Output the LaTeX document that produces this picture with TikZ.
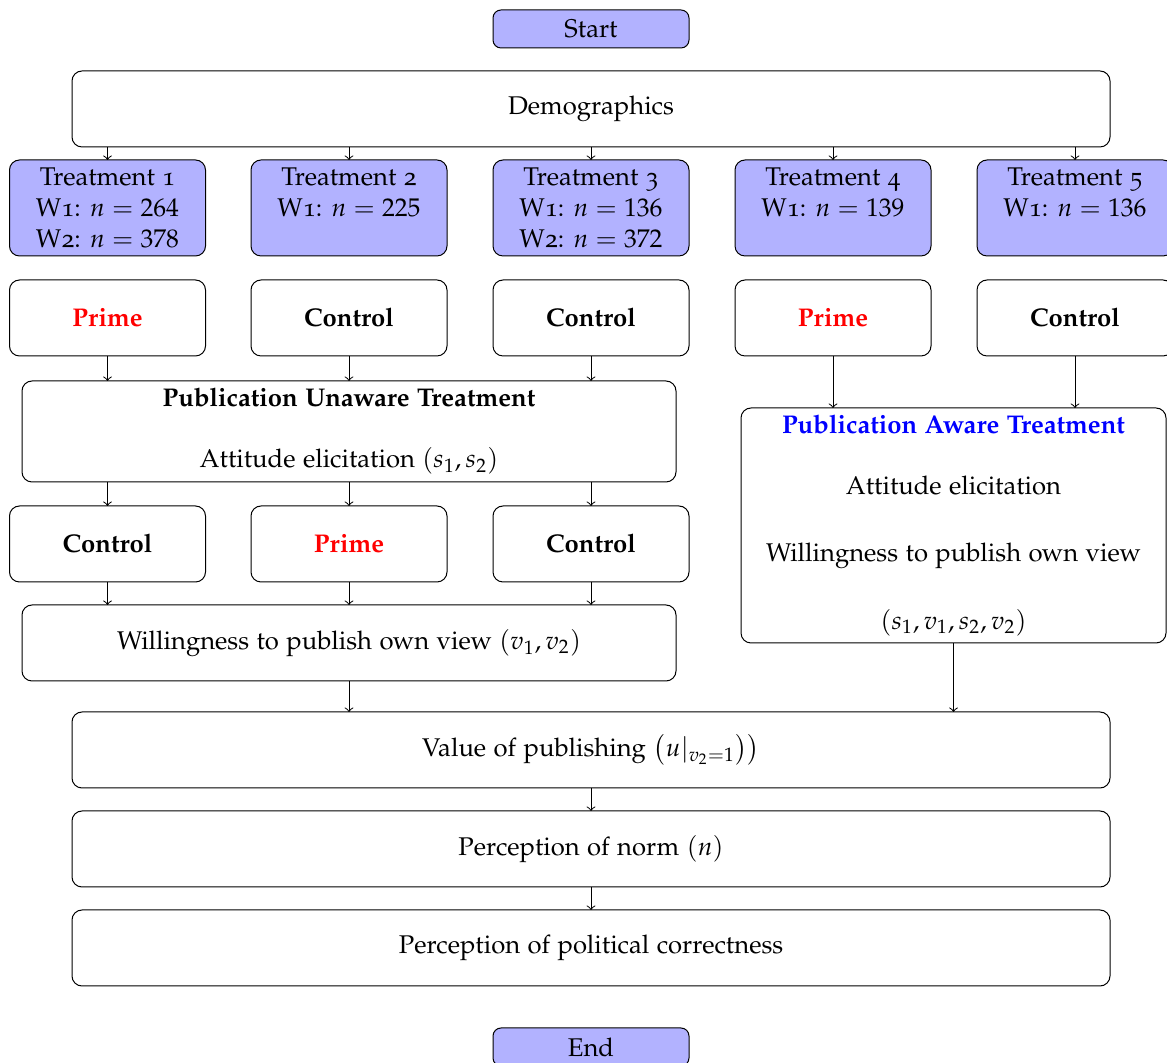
\documentclass[tikz,border=0pt]{standalone}
\usepackage[T1]{fontenc}
\usepackage[osf]{mathpazo}
\AtBeginDocument{\fontsize{10.25pt}{12.3pt}\selectfont}
\newdimen\pxu \pxu=0.4pt
\tikzset{
  base/.style={draw, rounded corners=4pt, inner sep=0pt, outer sep=0pt, align=center},
  smallbox/.style={base, minimum width=196\pxu, minimum height=76\pxu},
  treat/.style={base, fill=blue!30, minimum width=196\pxu, minimum height=96\pxu},
  term/.style={base, fill=blue!30, rounded corners=3.2pt, minimum width=196\pxu, minimum height=38\pxu},
  wide/.style={base, minimum width=1038\pxu, minimum height=76\pxu},
  midbox/.style={base, minimum width=654\pxu},
  prime/.style={smallbox, text=red, font=\bfseries},
  ctrl/.style={smallbox, font=\bfseries},
  arr/.style={->}
}
\begin{document}
\begin{tikzpicture}[x=0.4pt, y=-0.4pt]
\useasboundingbox (0,0) rectangle (1167,1063);
\node[term] (start) at (591,29) {Start};
\node[wide] (demo) at (591,109) {Demographics};

\node[treat] (t1) at (107.5,208) {Treatment 1\\W1: $n=264$\\W2: $n=378$};
\node[treat] (t2) at (349,208) {Treatment 2\\W1: $n=225$\\\phantom{W2: $n=378$}};
\node[treat] (t3) at (591,208) {Treatment 3\\W1: $n=136$\\W2: $n=372$};
\node[treat] (t4) at (833,208) {Treatment 4\\W1: $n=139$\\\phantom{W2: $n=378$}};
\node[treat] (t5) at (1075,208) {Treatment 5\\W1: $n=136$\\\phantom{W2: $n=378$}};

\node[prime] (a1) at (107.5,318) {Prime};
\node[ctrl] (a2) at (349,318) {Control};
\node[ctrl] (a3) at (591,318) {Control};
\node[prime] (a4) at (833,318) {Prime};
\node[ctrl] (a5) at (1075,318) {Control};

\node[midbox, minimum height=101\pxu] (unaware) at (349,431.5)
  {\textbf{Publication Unaware Treatment}\\[12.2pt]Attitude elicitation $(s_1,s_2)$};

\node[base, minimum width=425\pxu, minimum height=235\pxu] (aware) at (953.5,525.5)
  {\textcolor{blue}{\textbf{Publication Aware Treatment}}\\[12.2pt]Attitude elicitation\\[14.6pt]Willingness to publish own view\\[14.6pt]$(s_1,v_1,s_2,v_2)$};

\node[ctrl] (b1) at (107.5,544) {Control};
\node[prime] (b2) at (349,544) {Prime};
\node[ctrl] (b3) at (591,544) {Control};

\node[midbox, minimum height=76\pxu] (will) at (349,643) {Willingness to publish own view $(v_1,v_2)$};

\node[wide] (value) at (591,750) {Value of publishing $\bigl(u|_{v_2=1}\bigr)\bigr)$};
\node[wide] (norm) at (591,849) {Perception of norm $(n)$};
\node[wide] (polit) at (591,948) {Perception of political correctness};
\node[term] (end) at (591,1047) {End};

\foreach \t in {t1,t2,t3,t4,t5}
  \draw[arr] (demo.south -| \t.north) -- (\t.north);
\foreach \a in {a1,a2,a3}
  \draw[arr] (\a.south) -- (\a.south |- unaware.north);
\foreach \a in {a4,a5}
  \draw[arr] (\a.south) -- (\a.south |- aware.north);
\foreach \b in {b1,b2,b3}{
  \draw[arr] (unaware.south -| \b.north) -- (\b.north);
  \draw[arr] (\b.south) -- (\b.south |- will.north);
}
\draw[arr] (will.south) -- (will.south |- value.north);
\draw[arr] (aware.south) -- (aware.south |- value.north);
\draw[arr] (value.south) -- (norm.north);
\draw[arr] (norm.south) -- (polit.north);
\end{tikzpicture}
\end{document}
